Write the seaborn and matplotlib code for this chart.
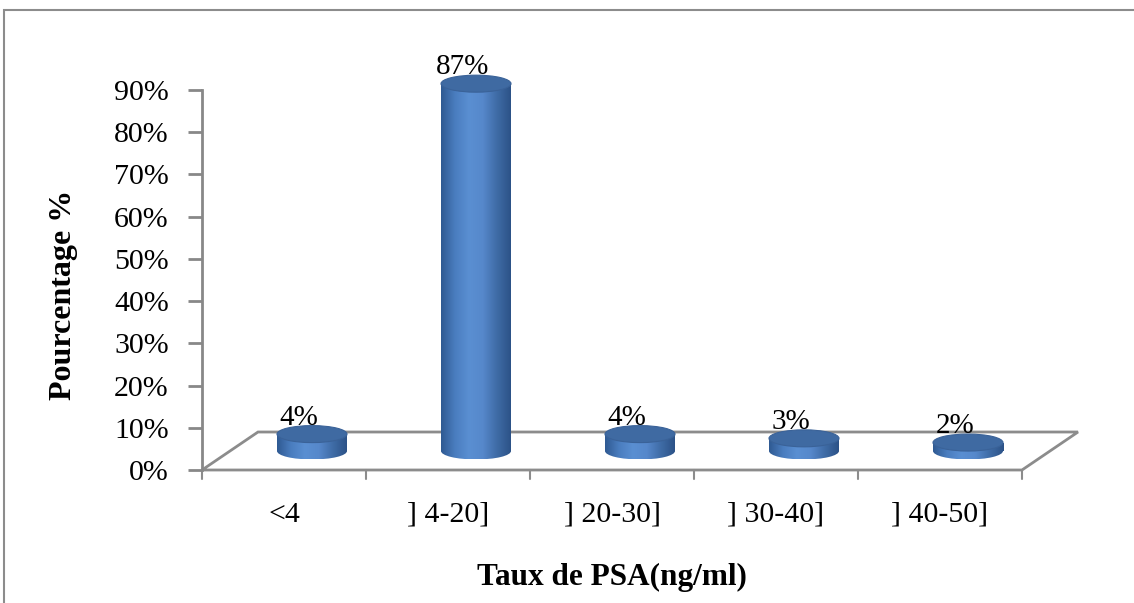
import numpy as np
import pandas as pd
import matplotlib
matplotlib.use("Agg")
import matplotlib.pyplot as plt
import matplotlib.transforms as mtransforms
from matplotlib.patches import Ellipse, Polygon, Rectangle
from matplotlib.colors import LinearSegmentedColormap
import seaborn as sns

# ---- data ----
categories = ["<4", "] 4-20]", "] 20-30]", "] 30-40]", "] 40-50]"]
percentages = [4, 87, 4, 3, 2]
value_labels = ["4%", "87%", "4%", "3%", "2%"]
y_ticks = [0, 10, 20, 30, 40, 50, 60, 70, 80, 90]
y_tick_labels = [f"{t}%" for t in y_ticks]
x_title = "Taux de PSA(ng/ml)"
y_title = "Pourcentage %"

sns.set_theme(style="white")
plt.rcParams["font.family"] = ["Liberation Serif", "DejaVu Serif"]
for k in ["text.color", "axes.labelcolor", "xtick.color", "ytick.color"]:
    plt.rcParams[k] = "black"

W, H, DPI = 1134, 603, 100
fig = plt.figure(figsize=(W / DPI, H / DPI), dpi=DPI)

# outer grey border
fig.patches.append(Rectangle((4 / W, -0.02), 1.05, (H - 10) / H + 0.02,
                             transform=fig.transFigure, fill=False,
                             edgecolor="#8c8c8c", linewidth=1.5, zorder=-2))

# front plane axes (axis, ticks, labels)
x0, y0 = 202, 470     # pixel of origin (from top)
pw, ph = 820, 380
YMAX = 90
ax = fig.add_axes([x0 / W, (H - y0) / H, pw / W, ph / H])
ax.set_zorder(0)
ax.set_xlim(-0.5, len(categories) - 0.5)
ax.set_ylim(0, YMAX)
ax.patch.set_alpha(0)
for s in ["top", "right", "bottom"]:
    ax.spines[s].set_visible(False)
ax.spines["left"].set_color("#888888")
ax.spines["left"].set_linewidth(2)
ax.set_yticks(y_ticks)
ax.set_yticklabels(y_tick_labels, fontsize=21.5)
ax.tick_params(axis="y", left=True, length=10, width=2, color="#888888",
               pad=14, labelcolor="black")
ax.set_xticks(np.arange(len(categories)))
ax.set_xticklabels(categories, fontsize=21.5)
ax.tick_params(axis="x", bottom=False, pad=17, labelcolor="black")
ax.set_ylabel(y_title, fontsize=23, fontweight="bold", labelpad=26, color="black")
ax.yaxis.label.set_y(0.46)
ax.set_xlabel(x_title, fontsize=22.5, fontweight="bold", labelpad=25, color="black")

# floor parallelogram (depth offset in pixels)
dx, dy = 56, 38
back = ax.transAxes + mtransforms.ScaledTranslation(dx / DPI, dy / DPI, fig.dpi_scale_trans)
disp = lambda tr, p: tr.transform(p)
pts = np.array([disp(ax.transAxes, (0, 0)), disp(ax.transAxes, (1, 0)),
                disp(back, (1, 0)), disp(back, (0, 0))])
floor = Polygon(fig.transFigure.inverted().transform(pts), closed=True,
                transform=fig.transFigure, facecolor="white",
                edgecolor="#8c8c8c", linewidth=2, zorder=-1)
fig.patches.append(floor)
# x ticks below the front edge
for i in range(len(categories) + 1):
    ax.plot([i - 0.5, i - 0.5], [0, -2.1], color="#8c8c8c", lw=1.5,
            clip_on=False, zorder=2)

# bar plane axes (mid-depth), extended a little below zero for the rounded base
bx, by = dx / 2, dy / 2
ppu = ph / YMAX            # pixels per percentage unit
ext = 6                    # extra units below zero
axb = fig.add_axes([(x0 + bx) / W, (H - y0 + by - ext * ppu) / H,
                    pw / W, (ph + ext * ppu) / H])
axb.set_zorder(1)
df = pd.DataFrame({"cat": categories, "pct": percentages})
bar_w = 70 / 164
sns.barplot(data=df, x="cat", y="pct", ax=axb, width=bar_w,
            color="#4f81bd", saturation=1, edgecolor="none")
axb.axis("off")
axb.patch.set_alpha(0)

cmap = LinearSegmentedColormap.from_list(
    "cyl", ["#2f5a92", "#4a7dbf", "#5a8fd2", "#5688cb", "#3f6ca6", "#2c5287"])
grad = np.linspace(0, 1, 256).reshape(1, -1)
eh = 17 / ppu   # ellipse height in data units

for bar, val, lab in zip(axb.patches, percentages, value_labels):
    xl = bar.get_x(); w = bar.get_width(); top = bar.get_height()
    xc = xl + w / 2
    bar.set_facecolor("none")
    im = axb.imshow(grad, cmap=cmap, aspect="auto",
                    extent=[xl, xl + w, 0, top], zorder=3)
    im.set_clip_path(bar)
    bot = Ellipse((xc, 0), w, eh, facecolor="none", edgecolor="none")
    axb.add_patch(bot)
    im2 = axb.imshow(grad, cmap=cmap, aspect="auto",
                     extent=[xl, xl + w, -eh / 2, eh / 2], zorder=3)
    im2.set_clip_path(bot)
    topc = Ellipse((xc, top), w, eh, facecolor="#3f6aa2",
                   edgecolor="#3a6298", linewidth=0.8, zorder=4)
    axb.add_patch(topc)
    axb.text(xc - 13 / 164, top + eh / 2 + 0.2, lab, ha="center",
             va="baseline", fontsize=21, color="black", zorder=5)
axb.set_xlim(-0.5, len(categories) - 0.5)
axb.set_ylim(-ext, YMAX)

fig.savefig("out.png", dpi=DPI)
